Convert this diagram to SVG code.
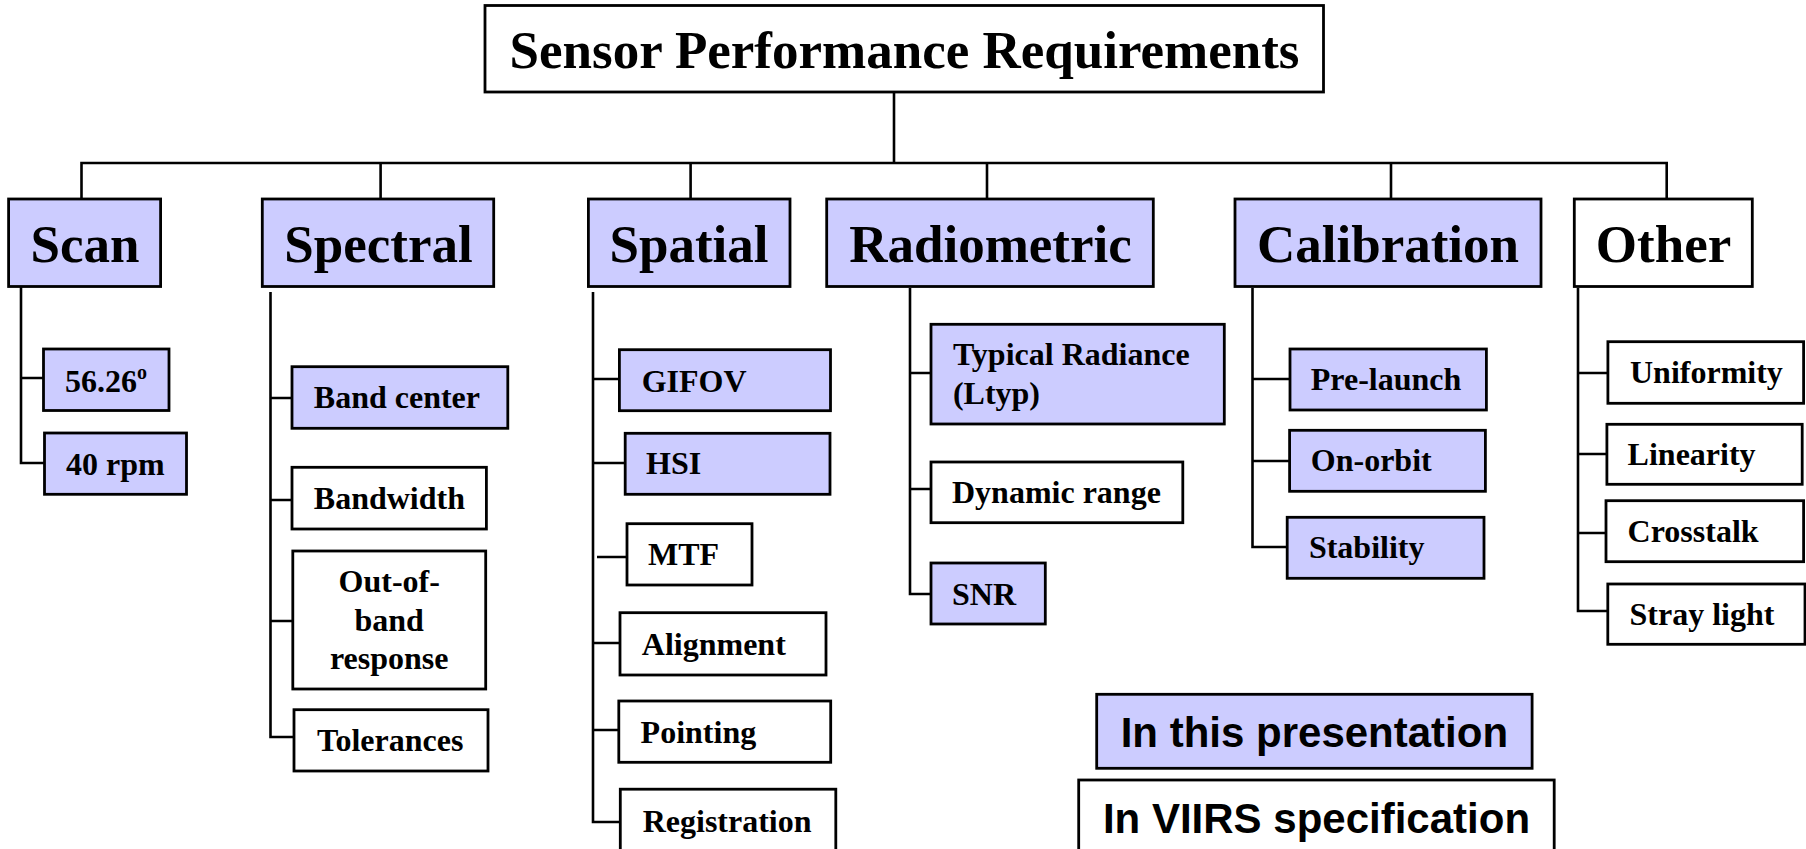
<svg xmlns="http://www.w3.org/2000/svg" width="1806" height="849" viewBox="0 0 1806 849">
<style>
  .box { fill: #FFFFFF; stroke: #000000; stroke-width: 2.8; }
  .hl { fill: #CCCCFF; }
  .conn { stroke: #000000; stroke-width: 2.6; fill: none; }
  .t { font-family: "Liberation Serif", "Times New Roman", serif; font-weight: bold; fill: #000000; }
  .title { font-size: 53px; }
  .cat { font-size: 53px; }
  .item { font-size: 32px; }
  .leg { font-family: "Liberation Sans", Arial, sans-serif; font-weight: bold; font-size: 42px; fill: #000000; }
</style>
<rect width="1806" height="849" fill="#FFFFFF"/>

<g id="connectors">
  <!-- title to bus -->
  <path class="conn" d="M894,92 V163"/>
  <path class="conn" d="M81.5,200 V163 H1666.7 V200"/>
  <path class="conn" d="M380.6,163 V200 M690.6,163 V200 M987,163 V200 M1391,163 V200"/>
  <!-- Scan -->
  <path class="conn" d="M21,287 V463 H44.5 M21,378 H43.5"/>
  <!-- Spectral -->
  <path class="conn" d="M270.5,292 V737 H294 M270.5,398 H292 M270.5,500 H292 M270.5,621 H293"/>
  <!-- Spatial -->
  <path class="conn" d="M593,292 V822 H620.5 M593,379 H619.5 M593,463 H625 M597,557 H627 M593,643 H620 M593,730 H619"/>
  <!-- Radiometric -->
  <path class="conn" d="M910,288 V594 H931 M910,373 H931 M910,489 H931"/>
  <!-- Calibration -->
  <path class="conn" d="M1252.5,288 V547 H1287 M1252.5,379 H1290 M1252.5,461 H1289.5"/>
  <!-- Other -->
  <path class="conn" d="M1578,288 V611 H1608 M1578,373 H1608 M1578,454 H1607 M1578,533 H1606"/>
</g>

<g id="title">
  <rect class="box" x="485" y="5.5" width="838.5" height="86.5"/>
  <text class="t title" x="904.5" y="68" text-anchor="middle">Sensor Performance Requirements</text>
</g>

<g id="cat-scan">
  <rect class="box hl" x="8.6" y="199" width="152" height="87.5"/>
  <text class="t cat" x="85" y="262" text-anchor="middle">Scan</text>
</g>
<g id="cat-spectral">
  <rect class="box hl" x="262.3" y="199" width="231.4" height="87.5"/>
  <text class="t cat" x="378.5" y="262" text-anchor="middle">Spectral</text>
</g>
<g id="cat-spatial">
  <rect class="box hl" x="588.4" y="199" width="201.6" height="87.5"/>
  <text class="t cat" x="689" y="262" text-anchor="middle">Spatial</text>
</g>
<g id="cat-radiometric">
  <rect class="box hl" x="826.7" y="199" width="326.6" height="87.5"/>
  <text class="t cat" x="990.5" y="262" text-anchor="middle">Radiometric</text>
</g>
<g id="cat-calibration">
  <rect class="box hl" x="1235" y="199" width="306" height="87.5"/>
  <text class="t cat" x="1388" y="262" text-anchor="middle">Calibration</text>
</g>
<g id="cat-other">
  <rect class="box" x="1574.3" y="199" width="178" height="87.5"/>
  <text class="t cat" x="1663.5" y="262" text-anchor="middle">Other</text>
</g>

<!-- Scan children -->
<g id="scan-angle">
  <rect class="box hl" x="43.5" y="349" width="125.5" height="61.5"/>
  <text class="t item" x="65" y="391.5">56.26<tspan font-size="20px" dy="-13">o</tspan></text>
</g>
<g id="scan-rpm">
  <rect class="box hl" x="44.5" y="433" width="142" height="61.3"/>
  <text class="t item" x="66" y="475">40 rpm</text>
</g>

<!-- Spectral children -->
<g id="spec-center">
  <rect class="box hl" x="292" y="366.7" width="215.8" height="61.6"/>
  <text class="t item" x="313.8" y="408.3">Band center</text>
</g>
<g id="spec-bandwidth">
  <rect class="box" x="292" y="467.3" width="194.4" height="61.7"/>
  <text class="t item" x="313.8" y="509">Bandwidth</text>
</g>
<g id="spec-outofband">
  <rect class="box" x="292.8" y="551" width="192.9" height="138"/>
  <text class="t item" x="389.2" y="592" text-anchor="middle">Out-of-</text>
  <text class="t item" x="389.2" y="631" text-anchor="middle">band</text>
  <text class="t item" x="389.2" y="668.5" text-anchor="middle">response</text>
</g>
<g id="spec-tolerances">
  <rect class="box" x="294" y="709.7" width="194" height="61.3"/>
  <text class="t item" x="317" y="750.7">Tolerances</text>
</g>

<!-- Spatial children -->
<g id="spat-gifov">
  <rect class="box hl" x="619.4" y="349.7" width="211.1" height="61"/>
  <text class="t item" x="641.7" y="391.7">GIFOV</text>
</g>
<g id="spat-hsi">
  <rect class="box hl" x="625.2" y="433.3" width="204.8" height="61"/>
  <text class="t item" x="646" y="474.3">HSI</text>
</g>
<g id="spat-mtf">
  <rect class="box" x="627" y="523.7" width="125" height="61.3"/>
  <text class="t item" x="648" y="565">MTF</text>
</g>
<g id="spat-alignment">
  <rect class="box" x="620" y="612.7" width="206" height="62.3"/>
  <text class="t item" x="641.8" y="655">Alignment</text>
</g>
<g id="spat-pointing">
  <rect class="box" x="618.8" y="701" width="211.9" height="61.3"/>
  <text class="t item" x="640.6" y="742.7">Pointing</text>
</g>
<g id="spat-registration">
  <rect class="box" x="620.3" y="789.2" width="215.5" height="80"/>
  <text class="t item" x="642.7" y="831.7">Registration</text>
</g>

<!-- Radiometric children -->
<g id="rad-ltyp">
  <rect class="box hl" x="931" y="324.3" width="293.3" height="99.7"/>
  <text class="t item" x="952.9" y="365">Typical Radiance</text>
  <text class="t item" x="952.9" y="403.5">(Ltyp)</text>
</g>
<g id="rad-dynamic">
  <rect class="box" x="931" y="462" width="251.8" height="60.7"/>
  <text class="t item" x="952" y="502.7">Dynamic range</text>
</g>
<g id="rad-snr">
  <rect class="box hl" x="931" y="563" width="114.3" height="61"/>
  <text class="t item" x="952" y="605">SNR</text>
</g>

<!-- Calibration children -->
<g id="cal-prelaunch">
  <rect class="box hl" x="1290" y="349" width="196.4" height="61"/>
  <text class="t item" x="1310.8" y="390">Pre-launch</text>
</g>
<g id="cal-onorbit">
  <rect class="box hl" x="1289.6" y="430.3" width="195.8" height="61"/>
  <text class="t item" x="1310.8" y="471">On-orbit</text>
</g>
<g id="cal-stability">
  <rect class="box hl" x="1287.2" y="517.3" width="196.8" height="61"/>
  <text class="t item" x="1308.9" y="558.3">Stability</text>
</g>

<!-- Other children -->
<g id="oth-uniformity">
  <rect class="box" x="1607.9" y="341.7" width="195.7" height="61.6"/>
  <text class="t item" x="1630" y="383.3">Uniformity</text>
</g>
<g id="oth-linearity">
  <rect class="box" x="1606.9" y="424.3" width="195.3" height="60"/>
  <text class="t item" x="1627.6" y="465">Linearity</text>
</g>
<g id="oth-crosstalk">
  <rect class="box" x="1606" y="500.7" width="197.6" height="61"/>
  <text class="t item" x="1627.6" y="542.3">Crosstalk</text>
</g>
<g id="oth-straylight">
  <rect class="box" x="1607.8" y="584" width="197.2" height="60.3"/>
  <text class="t item" x="1629.5" y="625.3">Stray light</text>
</g>

<!-- Legend -->
<g id="legend-presentation">
  <rect class="box hl" x="1096.7" y="694.3" width="435.4" height="74"/>
  <text class="leg" x="1314.4" y="747.3" text-anchor="middle">In this presentation</text>
</g>
<g id="legend-viirs">
  <rect class="box" x="1078.7" y="780" width="475.5" height="90"/>
  <text class="leg" x="1316.5" y="833.3" text-anchor="middle">In VIIRS specification</text>
</g>
</svg>
